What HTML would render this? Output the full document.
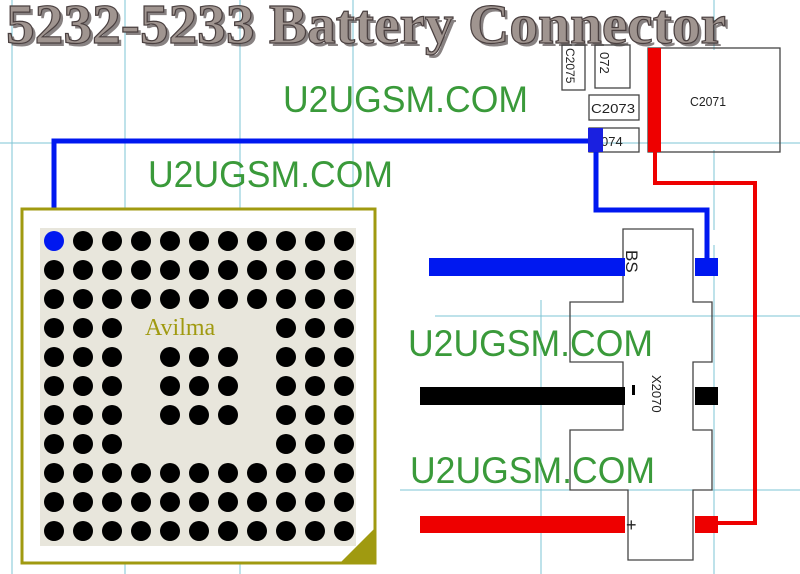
<!DOCTYPE html>
<html><head><meta charset="utf-8"><style>html,body{margin:0;padding:0;background:#fff}svg{display:block}</style></head><body>
<svg width="800" height="574" viewBox="0 0 800 574" xmlns="http://www.w3.org/2000/svg">
<rect width="800" height="574" fill="#fff"/>
<g stroke="#7ec4d4" stroke-width="1">
<line x1="12" y1="0" x2="12" y2="574"/><line x1="125" y1="0" x2="125" y2="574"/><line x1="240" y1="0" x2="240" y2="574"/><line x1="353" y1="0" x2="353" y2="210"/>
<line x1="541" y1="300" x2="541" y2="574"/><line x1="714" y1="245" x2="714" y2="574"/><line x1="714" y1="0" x2="714" y2="50"/><line x1="714" y1="150" x2="714" y2="230"/>
<line x1="0" y1="143" x2="800" y2="143"/><line x1="435" y1="316" x2="800" y2="316"/><line x1="400" y1="490" x2="800" y2="490"/>
</g>
<text x="9" y="46" font-family="Liberation Serif" font-weight="bold" font-size="56" textLength="720" lengthAdjust="spacingAndGlyphs" fill="#3a3030" opacity="0.6">5232-5233 Battery Connector</text>
<text x="6" y="43" font-family="Liberation Serif" font-weight="bold" font-size="56" textLength="720" lengthAdjust="spacingAndGlyphs" fill="#a09590" stroke="#4a4040" stroke-width="1.2">5232-5233 Battery Connector</text>
<g fill="none" stroke="#444" stroke-width="1.3">
<rect x="562" y="45" width="23" height="45"/><rect x="595" y="45" width="35" height="43"/>
<rect x="589" y="95" width="50" height="25"/><rect x="589" y="128" width="50" height="24"/>
<rect x="648" y="48" width="132" height="104"/>
<path d="M623 229H693V302H712V362H693V430H712V490H693V560H628V490H570V430H623V362H570V302H623Z"/>
</g>
<g font-family="Liberation Sans" font-size="13" fill="#222">
<text x="690" y="106" textLength="36" lengthAdjust="spacingAndGlyphs">C2071</text><text x="591" y="113" textLength="44" lengthAdjust="spacingAndGlyphs">C2073</text><text x="601" y="146">074</text>
<text transform="translate(566,48) rotate(90)" font-size="12">C2075</text><text transform="translate(600,52) rotate(90)">072</text>
<text transform="translate(652,375) rotate(90)" font-size="13">X2070</text>
<text transform="translate(626,250) rotate(90)" font-size="17">BS</text>
<text x="626" y="531" font-size="18">+</text>
</g>
<rect x="632" y="385" width="3" height="10" fill="#000"/>
<g fill="none" stroke="#e00" stroke-width="4"><path d="M655 152V183H755V523H718"/></g>
<rect x="648" y="48" width="13" height="104" fill="#e00"/>
<g fill="none" stroke="#0018f0" stroke-width="5"><path d="M596 141H54V241"/><path d="M596 141V210H707V260"/></g>
<rect x="588" y="128" width="15" height="24" fill="#1a20e0"/>
<rect x="429" y="258" width="196" height="18" fill="#0018f0"/><rect x="695" y="258" width="23" height="18" fill="#0018f0"/>
<rect x="420" y="387" width="205" height="18" fill="#000"/><rect x="695" y="387" width="23" height="18" fill="#000"/>
<rect x="420" y="516" width="205" height="17" fill="#e00"/><rect x="695" y="516" width="23" height="17" fill="#e00"/>
<rect x="22" y="209" width="353" height="354" fill="#fff" stroke="#a09a10" stroke-width="3"/>
<rect x="40" y="228" width="316" height="318" fill="#e8e6dc"/>
<path d="M375 528V563H340Z" fill="#a09a10"/>
<text x="145" y="335" font-family="Liberation Serif" font-size="24" fill="#a09a10">Avilma</text>
<circle cx="54" cy="241" r="10" fill="#0018f0"/>
<g font-family="Liberation Sans" font-size="37" fill="#3a9a3a">
<text x="283" y="112" textLength="245" lengthAdjust="spacingAndGlyphs">U2UGSM.COM</text><text x="148" y="187" textLength="245" lengthAdjust="spacingAndGlyphs">U2UGSM.COM</text>
<text x="408" y="356" textLength="245" lengthAdjust="spacingAndGlyphs">U2UGSM.COM</text><text x="410" y="483" textLength="245" lengthAdjust="spacingAndGlyphs">U2UGSM.COM</text>
</g>
<g fill="#000">
<circle cx="83" cy="241" r="10"/><circle cx="112" cy="241" r="10"/><circle cx="141" cy="241" r="10"/><circle cx="170" cy="241" r="10"/><circle cx="199" cy="241" r="10"/><circle cx="228" cy="241" r="10"/><circle cx="257" cy="241" r="10"/><circle cx="286" cy="241" r="10"/><circle cx="315" cy="241" r="10"/><circle cx="344" cy="241" r="10"/>
<circle cx="54" cy="270" r="10"/><circle cx="83" cy="270" r="10"/><circle cx="112" cy="270" r="10"/><circle cx="141" cy="270" r="10"/><circle cx="170" cy="270" r="10"/><circle cx="199" cy="270" r="10"/><circle cx="228" cy="270" r="10"/><circle cx="257" cy="270" r="10"/><circle cx="286" cy="270" r="10"/><circle cx="315" cy="270" r="10"/><circle cx="344" cy="270" r="10"/>
<circle cx="54" cy="299" r="10"/><circle cx="83" cy="299" r="10"/><circle cx="112" cy="299" r="10"/><circle cx="141" cy="299" r="10"/><circle cx="170" cy="299" r="10"/><circle cx="199" cy="299" r="10"/><circle cx="228" cy="299" r="10"/><circle cx="257" cy="299" r="10"/><circle cx="286" cy="299" r="10"/><circle cx="315" cy="299" r="10"/><circle cx="344" cy="299" r="10"/>
<circle cx="54" cy="328" r="10"/><circle cx="83" cy="328" r="10"/><circle cx="112" cy="328" r="10"/><circle cx="286" cy="328" r="10"/><circle cx="315" cy="328" r="10"/><circle cx="344" cy="328" r="10"/>
<circle cx="54" cy="357" r="10"/><circle cx="83" cy="357" r="10"/><circle cx="112" cy="357" r="10"/><circle cx="170" cy="357" r="10"/><circle cx="199" cy="357" r="10"/><circle cx="228" cy="357" r="10"/><circle cx="286" cy="357" r="10"/><circle cx="315" cy="357" r="10"/><circle cx="344" cy="357" r="10"/>
<circle cx="54" cy="386" r="10"/><circle cx="83" cy="386" r="10"/><circle cx="112" cy="386" r="10"/><circle cx="170" cy="386" r="10"/><circle cx="199" cy="386" r="10"/><circle cx="228" cy="386" r="10"/><circle cx="286" cy="386" r="10"/><circle cx="315" cy="386" r="10"/><circle cx="344" cy="386" r="10"/>
<circle cx="54" cy="415" r="10"/><circle cx="83" cy="415" r="10"/><circle cx="112" cy="415" r="10"/><circle cx="170" cy="415" r="10"/><circle cx="199" cy="415" r="10"/><circle cx="228" cy="415" r="10"/><circle cx="286" cy="415" r="10"/><circle cx="315" cy="415" r="10"/><circle cx="344" cy="415" r="10"/>
<circle cx="54" cy="444" r="10"/><circle cx="83" cy="444" r="10"/><circle cx="112" cy="444" r="10"/><circle cx="286" cy="444" r="10"/><circle cx="315" cy="444" r="10"/><circle cx="344" cy="444" r="10"/>
<circle cx="54" cy="473" r="10"/><circle cx="83" cy="473" r="10"/><circle cx="112" cy="473" r="10"/><circle cx="141" cy="473" r="10"/><circle cx="170" cy="473" r="10"/><circle cx="199" cy="473" r="10"/><circle cx="228" cy="473" r="10"/><circle cx="257" cy="473" r="10"/><circle cx="286" cy="473" r="10"/><circle cx="315" cy="473" r="10"/><circle cx="344" cy="473" r="10"/>
<circle cx="54" cy="502" r="10"/><circle cx="83" cy="502" r="10"/><circle cx="112" cy="502" r="10"/><circle cx="141" cy="502" r="10"/><circle cx="170" cy="502" r="10"/><circle cx="199" cy="502" r="10"/><circle cx="228" cy="502" r="10"/><circle cx="257" cy="502" r="10"/><circle cx="286" cy="502" r="10"/><circle cx="315" cy="502" r="10"/><circle cx="344" cy="502" r="10"/>
<circle cx="54" cy="531" r="10"/><circle cx="83" cy="531" r="10"/><circle cx="112" cy="531" r="10"/><circle cx="141" cy="531" r="10"/><circle cx="170" cy="531" r="10"/><circle cx="199" cy="531" r="10"/><circle cx="228" cy="531" r="10"/><circle cx="257" cy="531" r="10"/><circle cx="286" cy="531" r="10"/><circle cx="315" cy="531" r="10"/><circle cx="344" cy="531" r="10"/>
</g>
</svg>
</body></html>
